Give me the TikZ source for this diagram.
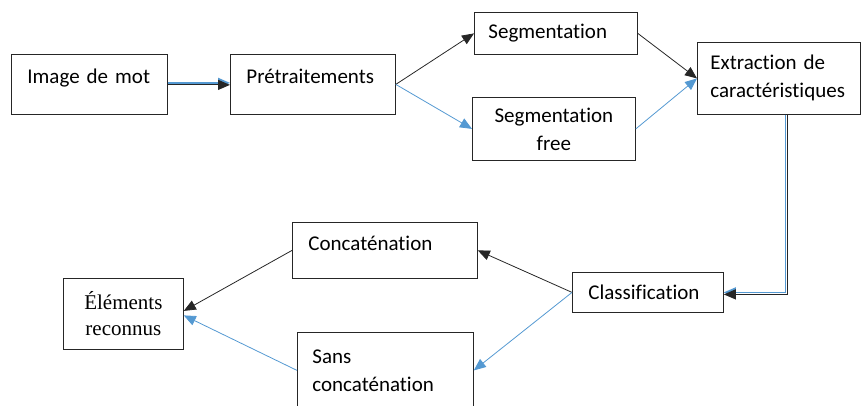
\documentclass[tikz,border=0pt]{standalone}
\usepackage{fontspec}
\setmainfont[Ligatures=NoCommon]{Carlito}
\newfontfamily\timesfont{Liberation Serif}
\usepackage{tikz}
\usetikzlibrary{arrows.meta}
\definecolor{flowblue}{RGB}{84,153,210}

\begin{document}
\begin{tikzpicture}[x=1pt,y=-1pt,
  box/.style={draw=black!85,line width=0.8pt,anchor=north west,inner ysep=0pt,align=left,font=\fontsize{21}{28}\selectfont},
  arr/.style={-{Triangle[length=12pt,width=10pt]},line width=0.8pt,black!85},
  barr/.style={arr,flowblue}]
\useasboundingbox (0,0) rectangle (861,406);
\node[box,inner xsep=16pt,text width=124pt,text height=29pt,text depth=31pt] (img) at (11,54) {Image de mot};
\node[box,inner xsep=16pt,text width=133pt,text height=29pt,text depth=31pt] (pre) at (230,54) {Prétraitements};
\node[box,inner xsep=14pt,text width=135pt,minimum height=42pt] (seg) at (474,12) {Segmentation};
\node[box,inner xsep=10pt,text width=143pt,minimum height=63pt,align=center] (segf) at (472,97) {Segmentation\\free};
\node[box,inner xsep=13pt,text width=137pt,minimum height=72pt] (ext) at (697,42) {Extraction de\\caractéristiques};
\node[box,inner xsep=16pt,text width=119pt,minimum height=40pt] (cls) at (572,272) {Classification};
\node[box,inner xsep=16pt,text width=153pt,text height=28pt,text depth=28pt] (conc) at (292,222) {Concaténation};
\node[box,inner xsep=15pt,text width=146pt,minimum height=76pt] (sans) at (297,332) {Sans\\concaténation};
\node[box,inner xsep=6pt,text width=108pt,minimum height=71pt,align=center,font=\timesfont\fontsize{21}{26}\selectfont] (elem) at (63,278) {Éléments\\reconnus};
\draw[barr,line width=1.6pt] ([yshift=1.5pt]img.east) -- ([yshift=1.5pt]pre.west);
\draw[arr,line width=1.2pt] ([yshift=-0.5pt]img.east) -- ([yshift=-0.5pt]pre.west);
\draw[arr] (pre.east) -- (seg.west);
\draw[barr] (pre.east) -- (segf.west);
\draw[arr] (seg.east) -- (ext.west);
\draw[barr] (segf.east) -- (ext.west);
\draw[barr,line width=1.2pt] ([xshift=6.5pt]ext.south) |- (cls.east);
\draw[arr,line width=1.2pt] ([xshift=8.5pt]ext.south) |- ([yshift=-2pt]cls.east);
\draw[arr] (cls.west) -- (conc.east);
\draw[barr] (cls.west) -- (sans.east);
\draw[arr] (conc.west) -- ([yshift=3pt]elem.east);
\draw[barr] (sans.west) -- ([yshift=-1.5pt]elem.east);
\end{tikzpicture}
\end{document}
